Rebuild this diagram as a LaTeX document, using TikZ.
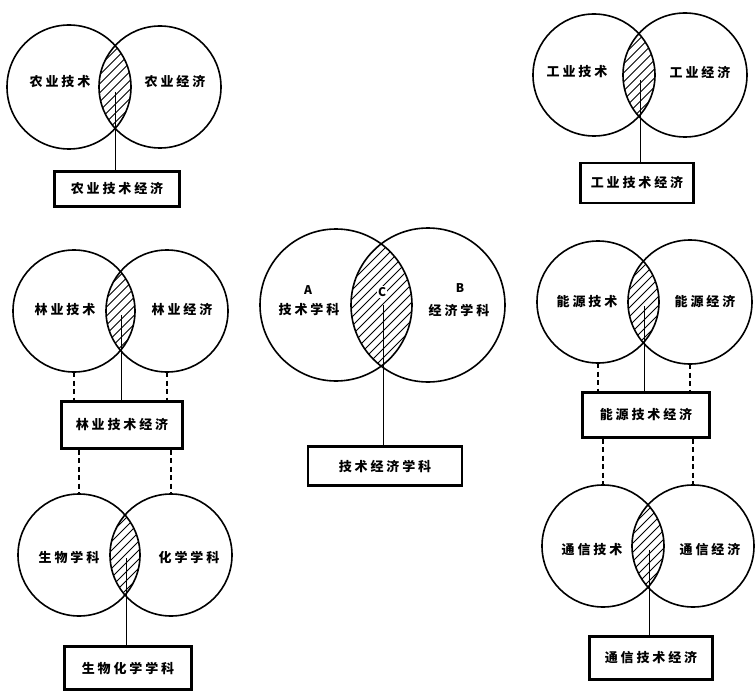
\documentclass[tikz,border=0pt]{standalone}
\usepackage{fontspec}
\newfontfamily\cjk{Noto Sans CJK SC}[LetterSpace=22]
\newfontfamily\cjklat{Noto Sans CJK SC}
\tikzset{
  vcirc/.style={circle, draw, line width=1.6pt, inner sep=0pt, outer sep=0pt},
  lbl/.style={font=\cjk\bfseries\fontsize{13}{15}\selectfont, inner sep=0pt},
  let/.style={font=\cjklat\bfseries\fontsize{12}{14}\selectfont, inner sep=0pt},
  box/.style={draw, line width=2.2pt, inner sep=0pt, font=\cjk\bfseries\fontsize{13}{15}\selectfont},
  conn/.style={line width=1pt},
  dconn/.style={line width=1.4pt, dash pattern=on 5pt off 3.5pt},
  hatch/.style={line width=0.9pt}
}
\newcommand{\hatchlens}[6]{%
  \begin{scope}
    \clip (#1,#2) circle[radius=#5pt];
    \clip (#3,#4) circle[radius=#6pt];
    \foreach \k in {-135,-126,...,135}
      \draw[hatch] ({(#1+#3)/2+\k-100},{(#2+#4)/2+100}) -- ++(200,-200);
  \end{scope}}
\begin{document}
\begin{tikzpicture}[x=1pt,y=-1pt]
\useasboundingbox[fill=white] (0,0) rectangle (756,693);

% ---- agriculture (top left)
\hatchlens{69}{87}{160}{87}{62}{61}
\node[vcirc, minimum size=124pt] (agL) at (69,87) {};
\node[vcirc, minimum size=122pt] (agR) at (160,87) {};
\node[lbl] (agLt) at (60,82) {农业技术};
\node[lbl] (agRt) at (175,82) {农业经济};
\node[box, minimum width=125pt, minimum height=35pt] (agB) at (117,189) {农业技术经济};
\coordinate (agC) at (115,92);
\draw[conn] (agC) -- (agC |- agB.north);

% ---- industry (top right)
\hatchlens{594}{75}{685}{75}{61}{62}
\node[vcirc, minimum size=122pt] (inL) at (594,75) {};
\node[vcirc, minimum size=124pt] (inR) at (685,75) {};
\node[lbl] (inLt) at (577,72) {工业技术};
\node[lbl] (inRt) at (700,72) {工业经济};
\node[box, minimum width=113pt, minimum height=40pt] (inB) at (637,183) {工业技术经济};
\coordinate (inC) at (640,80);
\draw[conn] (inC) -- (inC |- inB.north);

% ---- forestry (middle left)
\hatchlens{74}{311}{167}{311}{61}{61}
\node[vcirc, minimum size=122pt] (foL) at (74,311) {};
\node[vcirc, minimum size=122pt] (foR) at (167,311) {};
\node[lbl] (foLt) at (65,310) {林业技术};
\node[lbl] (foRt) at (182,310) {林业经济};
\node[box, minimum width=121pt, minimum height=47pt] (foB) at (122,425) {林业技术经济};
\coordinate (foC) at (121,315);
\draw[conn] (foC) -- (foC |- foB.north);
\draw[dconn] (foL.south) -- (foL.south |- foB.north);
\draw[dconn] (foR.south) -- (foR.south |- foB.north);

% ---- biology / chemistry (bottom left)
\hatchlens{79}{555}{171}{555}{61}{61}
\node[vcirc, minimum size=122pt] (biL) at (79,555) {};
\node[vcirc, minimum size=122pt] (biR) at (171,555) {};
\node[lbl] (biLt) at (69,557) {生物学科};
\node[lbl] (biRt) at (189,557) {化学学科};
\node[box, minimum width=127pt, minimum height=43pt] (biB) at (128,668) {生物化学学科};
\coordinate (biC) at (126,558);
\draw[conn] (biC) -- (biC |- biB.north);
\draw[dconn] (foB.south -| biL.north) -- (biL.north);
\draw[dconn] (foB.south -| biR.north) -- (biR.north);

% ---- central diagram
\hatchlens{336}{305}{428}{305}{76}{77}
\node[vcirc, minimum size=152pt] (ceL) at (336,305) {};
\node[vcirc, minimum size=154pt] (ceR) at (428,305) {};
\node[let] (ceA) at (308,290) {A};
\node[lbl] (ceLt) at (309,310) {技术学科};
\node[let] (ceB2) at (460,288) {B};
\node[lbl] (ceRt) at (459,310) {经济学科};
\node[let, fill=white, inner sep=1pt] (ceCl) at (382,292) {C};
\node[box, minimum width=154pt, minimum height=39pt] (ceB) at (385,466) {技术经济学科};
\coordinate (ceC) at (383,305);
\draw[conn] (ceC) -- (ceC |- ceB.north);

% ---- energy (middle right)
\hatchlens{598}{302}{690}{302}{61}{62}
\node[vcirc, minimum size=122pt] (enL) at (598,302) {};
\node[vcirc, minimum size=124pt] (enR) at (690,302) {};
\node[lbl] (enLt) at (587,302) {能源技术};
\node[lbl] (enRt) at (705,302) {能源经济};
\node[box, minimum width=127pt, minimum height=45pt] (enB) at (646,415) {能源技术经济};
\coordinate (enC) at (644,306);
\draw[conn] (enC) -- (enC |- enB.north);
\draw[dconn] (enL.south) -- (enL.south |- enB.north);
\draw[dconn] (enR.south) -- (enR.south |- enB.north);

% ---- communication (bottom right)
\hatchlens{603}{546}{693}{546}{61}{61}
\node[vcirc, minimum size=122pt] (coL) at (603,546) {};
\node[vcirc, minimum size=122pt] (coR) at (693,546) {};
\node[lbl] (coLt) at (592,550) {通信技术};
\node[lbl] (coRt) at (710,550) {通信经济};
\node[box, minimum width=123pt, minimum height=43pt] (coB) at (651,658) {通信技术经济};
\coordinate (coC) at (649,550);
\draw[conn] (coC) -- (coC |- coB.north);
\draw[dconn] (enB.south -| coL.north) -- (coL.north);
\draw[dconn] (enB.south -| coR.north) -- (coR.north);
\end{tikzpicture}
\end{document}
